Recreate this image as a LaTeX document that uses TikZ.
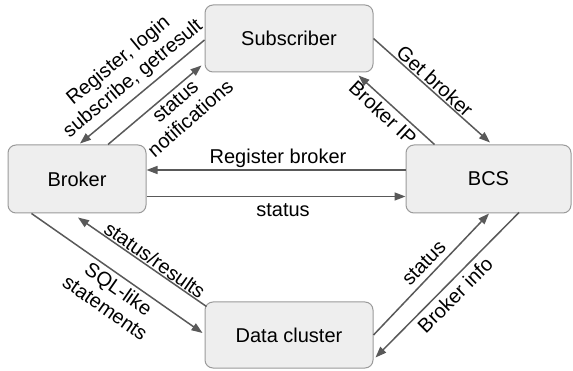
\documentclass[tikz,border=0pt]{standalone}
\usepackage{fontspec}
\setmainfont{Liberation Sans}
\usetikzlibrary{arrows.meta,calc}
\definecolor{boxfill}{HTML}{EEEEEE}
\definecolor{boxline}{HTML}{9A9A9A}
\definecolor{arrowc}{HTML}{595959}
\begin{document}
\begin{tikzpicture}[x=1pt,y=-1pt,
  box/.style={draw=boxline, fill=boxfill, rounded corners=8pt, line width=1pt, inner sep=0pt, font=\fontsize{20}{23}\selectfont},
  conn/.style={draw=arrowc, line width=1.5pt, -{Triangle[length=11pt,width=8pt]}},
  lbl/.style={inner sep=0pt, align=center, font=\fontsize{20}{23}\selectfont}]
\useasboundingbox (0,0) rectangle (573,371);
\node[box, minimum width=168pt, minimum height=67pt] (sub) at (289,38.5) {Subscriber};
\node[box, minimum width=138pt, minimum height=68pt] (broker) at (77,179) {Broker};
\node[box, minimum width=165pt, minimum height=68pt] (bcs) at (488.5,179) {BCS};
\node[box, minimum width=168pt, minimum height=66pt] (data) at (289,335) {Data cluster};

\draw[conn] ($(sub.west)+(0,1.5)$) -- ($(broker.north)+(3,-1)$);
\draw[conn] ($(broker.north)+(31,0)$) -- ($(sub.south west)+(-3,-7)$);
\draw[conn] (sub.east) -- ($(bcs.north)+(1.5,-2)$);
\draw[conn] ($(bcs.north west)+(29,0)$) -- ($(sub.south east)+(-15,3)$);
\draw[conn] ($(bcs.west)+(0,-9)$) -- ($(broker.east)+(0,-9)$);
\draw[conn] ($(broker.east)+(0,17.5)$) -- ($(bcs.west)+(0,17.5)$);
\draw[conn] ($(broker.south west)+(24,0)$) -- ($(data.west)+(-2,-2)$);
\draw[conn] ($(data.north west)+(2,5)$) -- ($(broker.south)+(1,4)$);
\draw[conn] (data.east) -- ($(bcs.south)+(0.5,0)$);
\draw[conn] ($(bcs.south)+(30.5,-1)$) -- ($(data.south east)+(2,-11)$);

\node[lbl, rotate=39.5] (l1) at (126,70) {Register, login\\subscribe, getresult};
\node[lbl, rotate=41] (l2) at (183,110) {status\\notifications};
\node[lbl, rotate=-42] (l3) at (435,81) {Get broker};
\node[lbl, rotate=-43] (l4) at (383,113) {Broker IP};
\node[lbl] (l5) at (278,158) {Register broker};
\node[lbl] (l6) at (283,210) {status};
\node[lbl, rotate=-35] (l7) at (155,260) {status/results};
\node[lbl, rotate=-35] (l8) at (112,298) {SQL-like\\statements};
\node[lbl, rotate=46] (l9) at (424,263) {status};
\node[lbl, rotate=45] (l10) at (455,295) {Broker info};
\end{tikzpicture}
\end{document}
